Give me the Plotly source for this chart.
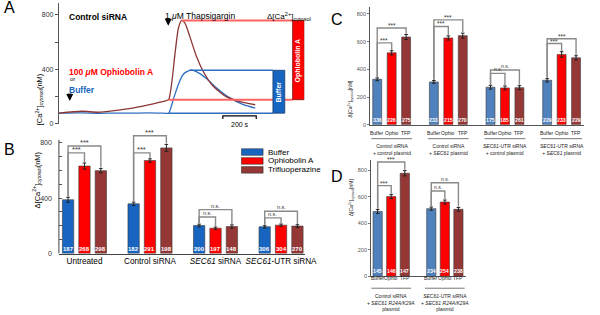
import plotly.graph_objects as go

W, H = 600, 315
FONT = "Liberation Sans, Arial, sans-serif"


def px(x):
    return x / W


def py(y):
    return 1 - y / H


# ---------------- Panel A: cytosolic Ca2+ traces ----------------
a_ophio_t = [0, 137, 235, 333, 431, 529, 627, 657, 676, 696, 716, 735, 755, 784, 823, 863, 922, 1000, 1078, 1176]
a_ophio_v = [78, 92, 85, 97, 114, 138, 165, 177, 303, 521, 703, 759, 739, 642, 497, 388, 279, 201, 165, 140]
a_buffer_t = [0, 137, 235, 333, 431, 529, 627, 657, 686, 716, 745, 784, 823, 882, 941, 1019, 1098, 1176]
a_buffer_v = [78, 80, 77, 79, 78, 80, 78, 78, 182, 291, 364, 393, 383, 334, 267, 194, 145, 116]
a_treat_time = 65
a_thaps_time = 655
a_thaps_rise_t = 657
a_yticks = [0, 400, 800]

# ---------------- Panel B ----------------
b_series = ["Buffer", "Ophiobolin A", "Trifluoperazine"]
b_cats = ["Untreated", "Control siRNA", "<i>SEC61</i> siRNA", "<i>SEC61</i>-UTR siRNA"]
b_buffer = [388, 359, 202, 193]
b_ophio = [631, 671, 183, 205]
b_tfp = [598, 762, 195, 198]
b_buffer_err = [18, 12, 10, 8]
b_ophio_err = [22, 12, 8, 8]
b_tfp_err = [16, 25, 12, 10]
b_buffer_n = [187, 182, 200, 306]
b_ophio_n = [268, 291, 197, 304]
b_tfp_n = [298, 198, 148, 270]
b_sig_inner = ["***", "***", "n.s.", "n.s."]
b_sig_outer = ["***", "***", "n.s.", "n.s."]
b_h_inner = [726, 726, 264, 257]
b_h_outer = [776, 850, 317, 305]
b_yticks = [0, 400, 800]

# ---------------- Panel C ----------------
c_short = ["Buffer", "Ophio", "TFP"]
c_groups = ["Control siRNA<br>+ control plasmid",
            "Control siRNA<br>+ <i>SEC61</i> plasmid",
            "<i>SEC61</i>-UTR siRNA<br>+ control plasmid",
            "<i>SEC61</i>-UTR siRNA<br>+ <i>SEC61</i> plasmid"]
c_buffer = [328, 309, 271, 321]
c_ophio = [519, 626, 266, 507]
c_tfp = [633, 643, 268, 483]
c_buffer_err = [10, 10, 14, 12]
c_ophio_err = [15, 15, 14, 20]
c_tfp_err = [18, 18, 14, 15]
c_buffer_n = [336, 233, 175, 229]
c_ophio_n = [226, 215, 185, 233]
c_tfp_n = [275, 270, 261, 229]
c_sig_inner = ["***", "***", "n.s.", "***"]
c_sig_outer = ["***", "***", "n.s.", "***"]
c_h_inner = [591, 709, 371, 586]
c_h_outer = [698, 757, 395, 621]
c_yticks = [0, 200, 400, 600, 800]

# ---------------- Panel D ----------------
d_groups = ["Control siRNA<br>+ <i>SEC61 R24A/K29A</i><br>plasmid",
            "<i>SEC61</i>-UTR siRNA<br>+ <i>SEC61 R24A/K29A</i><br>plasmid"]
d_buffer = [489, 511]
d_ophio = [602, 561]
d_tfp = [778, 506]
d_buffer_err = [15, 12]
d_ophio_err = [15, 15]
d_tfp_err = [20, 14]
d_buffer_n = [145, 234]
d_ophio_n = [146, 254]
d_tfp_n = [147, 238]
d_sig_inner = ["***", "n.s."]
d_sig_outer = ["***", "n.s."]
d_h_inner = [685, 644]
d_h_outer = [863, 707]
d_yticks = [0, 200, 400, 600, 800]

# ---------------- styles ----------------
COL_B = ["#1765c1", "#ff0000", "#953735"]
COL_CD = ["#4f81bd", "#ff0000", "#953735"]
RED_TRACE = "#8b3535"
BLUE_TRACE = "#2f6fc0"
BRK = "#8a8a8a"

fig = go.Figure()
shapes = []
ann = []

# ============ Panel A ============
fig.add_trace(go.Scatter(x=a_buffer_t, y=a_buffer_v, mode="lines", xaxis="x", yaxis="y",
                         line=dict(color=BLUE_TRACE, width=1.3, shape="spline", smoothing=0.6)))
fig.add_trace(go.Scatter(x=a_ophio_t, y=a_ophio_v, mode="lines", xaxis="x", yaxis="y",
                         line=dict(color=RED_TRACE, width=1.3, shape="spline", smoothing=0.6)))

rise_i = a_ophio_t.index(a_thaps_rise_t)
o_peak = max(a_ophio_v)
o_peak_t = a_ophio_t[a_ophio_v.index(o_peak)]
o_base = a_ophio_v[rise_i]
b_peak = max(a_buffer_v)
b_peak_t = a_buffer_t[a_buffer_v.index(b_peak)]
b_base = a_buffer_v[a_buffer_t.index(a_thaps_rise_t)]

BUF_BOX = (1282, 1353)
OPH_BOX = (1400, 1470)
for (x0, x1, yv) in [(o_peak_t, OPH_BOX[0], o_peak), (a_thaps_rise_t, OPH_BOX[0], o_base)]:
    shapes.append(dict(type="line", xref="x", yref="y", x0=x0, x1=x1, y0=yv, y1=yv,
                       line=dict(color="#ff6464", width=2)))
for (x0, x1, yv) in [(b_peak_t, BUF_BOX[0], b_peak), (a_thaps_rise_t, BUF_BOX[0], b_base)]:
    shapes.append(dict(type="line", xref="x", yref="y", x0=x0, x1=x1, y0=yv, y1=yv,
                       line=dict(color=BLUE_TRACE, width=1.5)))
shapes.append(dict(type="rect", xref="x", yref="y", x0=BUF_BOX[0], x1=BUF_BOX[1], y0=b_base, y1=b_peak,
                   fillcolor="#1765c1", line=dict(color="#1a3f70", width=0.8)))
shapes.append(dict(type="rect", xref="x", yref="y", x0=OPH_BOX[0], x1=OPH_BOX[1], y0=o_base, y1=o_peak,
                   fillcolor="#ff0000", line=dict(color="#7a1010", width=0.8)))
ann.append(dict(xref="x", yref="y", x=sum(BUF_BOX) / 2, y=(b_base + b_peak) / 2, text="<b>Buffer</b>",
                textangle=-90, showarrow=False, font=dict(size=7, color="white", family=FONT)))
ann.append(dict(xref="x", yref="y", x=sum(OPH_BOX) / 2, y=(o_base + o_peak) / 2, text="<b>Ophiobolin A</b>",
                textangle=-90, showarrow=False, font=dict(size=7, color="white", family=FONT)))

# scale bar 200 s
sb0, sb1, sby = 982, 982 + 200, 58
shapes.append(dict(type="path", xref="x", yref="y",
                   path=f"M {sb0},{sby-22} L {sb0},{sby} L {sb1},{sby} L {sb1},{sby-22}",
                   line=dict(color="black", width=1.2)))
ann.append(dict(xref="x", yref="y", x=(sb0 + sb1) / 2, y=sby - 22, yanchor="top", text="200 s",
                showarrow=False, font=dict(size=7, color="black", family=FONT)))

# arrows
for t, ytop in [(a_thaps_time, 17), (a_treat_time, 93)]:
    ann.append(dict(xref="x", yref="paper", x=t, y=py(ytop + 9), ax=0, ay=-8, text="",
                    showarrow=True, arrowhead=2, arrowsize=1, arrowwidth=1.4, arrowcolor="black"))
    shapes.append(dict(type="line", xref="x", yref="paper", x0=t - 12, x1=t + 12,
                       y0=py(ytop + 2), y1=py(ytop + 2), line=dict(color="black", width=1)))

ann += [
    dict(xref="paper", yref="paper", x=px(68), y=py(10), text="<b>Control siRNA</b>", xanchor="left",
         showarrow=False, font=dict(size=8.5, color="black", family=FONT)),
    dict(xref="paper", yref="paper", x=px(166), y=py(9), text="1 <i>μ</i>M Thapsigargin", xanchor="left",
         showarrow=False, font=dict(size=8.5, color="black", family=FONT)),
    dict(xref="paper", yref="paper", x=px(270), y=py(9), text="Δ[Ca<sup>2+</sup>]<sub>cytosol</sub>",
         xanchor="left", showarrow=False, font=dict(size=8, color="black", family=FONT)),
    dict(xref="paper", yref="paper", x=px(68), y=py(66), text="<b>100 <i>μ</i>M Ophiobolin A</b>",
         xanchor="left", showarrow=False, font=dict(size=8.5, color="#ff0000", family=FONT)),
    dict(xref="paper", yref="paper", x=px(69), y=py(75), text="or", xanchor="left",
         showarrow=False, font=dict(size=6, color="black", family=FONT)),
    dict(xref="paper", yref="paper", x=px(68), y=py(83.5), text="<b>Buffer</b>", xanchor="left",
         showarrow=False, font=dict(size=8.5, color="#1765c1", family=FONT)),
    dict(xref="paper", yref="paper", x=px(32), y=py(72), text="[Ca<sup>2+</sup>]<sub>cytosol</sub>(nM)",
         textangle=-90, showarrow=False, font=dict(size=7.5, color="black", family=FONT)),
]


# ============ bar panels helper ============
def bar_panel(xa, ya, values, errs, counts, names, colors, off, bw, sig_in, sig_out, h_in, h_out,
              nfont, sigfont, nsfont):
    ngroups = len(values[0])
    for si, (vals, er, col) in enumerate(zip(values, errs, colors)):
        xs = [g + (si - 1) * off for g in range(ngroups)]
        fig.add_trace(go.Bar(x=xs, y=vals, width=bw, xaxis=xa, yaxis=ya, name=names[si],
                             marker=dict(color=col, line=dict(color="#3a3a3a", width=0.6)),
                             error_y=dict(type="data", array=er, color="#222", thickness=1, width=1.8)))
        for x, n in zip(xs, counts[si]):
            ann.append(dict(xref=xa, yref=ya, x=x, y=0, yanchor="bottom", yshift=0, text=f"<b>{n}</b>",
                            showarrow=False, font=dict(size=nfont, color="white", family=FONT)))
    for g in range(ngroups):
        xb = g - off
        yb = values[0][g] + errs[0][g] + 6
        for k, (sig, h) in enumerate([(sig_in[g], h_in[g]), (sig_out[g], h_out[g])]):
            si = k + 1
            xt = g + (si - 1) * off
            yt = values[si][g] + errs[si][g] + 6
            shapes.append(dict(type="path", xref=xa, yref=ya,
                               path=f"M {xb},{yb} L {xb},{h} L {xt},{h} L {xt},{yt}",
                               line=dict(color=BRK, width=1.4)))
            star = sig.startswith("*")
            ann.append(dict(xref=xa, yref=ya, x=(xb + xt) / 2, y=h, yanchor="bottom",
                            yshift=-3 if star else -1, text=sig, showarrow=False,
                            font=dict(size=sigfont if star else nsfont, color="#333", family=FONT)))


# ============ Panel B ============
bar_panel("x2", "y2", [b_buffer, b_ophio, b_tfp], [b_buffer_err, b_ophio_err, b_tfp_err],
          [b_buffer_n, b_ophio_n, b_tfp_n], b_series, COL_B, 0.25, 0.173,
          b_sig_inner, b_sig_outer, b_h_inner, b_h_outer, 6, 7.5, 5.5)
shapes.append(dict(type="line", xref="x2 domain", yref="y2", x0=0, x1=0, y0=0, y1=820,
                   line=dict(color="#444", width=1)))
ann.append(dict(xref="paper", yref="paper", x=px(30), y=py(212),
                text="Δ[Ca<sup>2+</sup>]<sub>cytosol</sub>(nM)", textangle=-90, showarrow=False,
                font=dict(size=7.5, color="black", family=FONT)))
for i, (nm, col) in enumerate(zip(b_series, COL_B)):
    yc = 153.5 + i * 9
    shapes.append(dict(type="rect", xref="paper", yref="paper", x0=px(246), x1=px(268),
                       y0=py(yc + 3.3), y1=py(yc - 3.3), fillcolor=col, line=dict(color="#333", width=0.6)))
    ann.append(dict(xref="paper", yref="paper", x=px(271), y=py(yc), text=nm, xanchor="left",
                    showarrow=False, font=dict(size=8, color="black", family=FONT)))

# ============ Panel C ============
bar_panel("x3", "y3", [c_buffer, c_ophio, c_tfp], [c_buffer_err, c_ophio_err, c_tfp_err],
          [c_buffer_n, c_ophio_n, c_tfp_n], c_short, COL_CD, 0.255, 0.158,
          c_sig_inner, c_sig_outer, c_h_inner, c_h_outer, 5.2, 6.5, 5)
for g, lab in enumerate(c_groups):
    for si, s in enumerate(c_short):
        ann.append(dict(xref="x3", yref="paper", x=g + (si - 1) * 0.255, y=py(134.5), text=s,
                        showarrow=False, font=dict(size=5, color="#222", family=FONT)))
    shapes.append(dict(type="line", xref="x3", yref="paper", x0=g - 0.36, x1=g + 0.36,
                       y0=py(140), y1=py(140), line=dict(color="#555", width=0.8)))
    ann.append(dict(xref="x3", yref="paper", x=g, y=py(142.5), yanchor="top", text=lab,
                    showarrow=False, font=dict(size=5, color="#222", family=FONT)))
ann.append(dict(xref="paper", yref="paper", x=px(357), y=py(78),
                text="Δ[Ca<sup>2+</sup>]<sub>cytosol</sub>[nM]", textangle=-90, showarrow=False,
                font=dict(size=5, color="#222", family=FONT)))

# ============ Panel D ============
bar_panel("x4", "y4", [d_buffer, d_ophio, d_tfp], [d_buffer_err, d_ophio_err, d_tfp_err],
          [d_buffer_n, d_ophio_n, d_tfp_n], c_short, COL_CD, 0.253, 0.172,
          d_sig_inner, d_sig_outer, d_h_inner, d_h_outer, 5.2, 6.5, 5)
for g, lab in enumerate(d_groups):
    for si, s in enumerate(c_short):
        ann.append(dict(xref="x4", yref="paper", x=g + (si - 1) * 0.253, y=py(285.5), text=s,
                        showarrow=False, font=dict(size=5, color="#222", family=FONT)))
    shapes.append(dict(type="line", xref="x4", yref="paper", x0=g - 0.37, x1=g + 0.37,
                       y0=py(291), y1=py(291), line=dict(color="#555", width=0.8)))
    ann.append(dict(xref="x4", yref="paper", x=g, y=py(293.5), yanchor="top", text=lab,
                    showarrow=False, font=dict(size=5, color="#222", family=FONT)))
ann.append(dict(xref="paper", yref="paper", x=px(358), y=py(220),
                text="Δ[Ca<sup>2+</sup>]<sub>cytosol</sub>[nM]", textangle=-90, showarrow=False,
                font=dict(size=5, color="#222", family=FONT)))

for L, x, y in [("A", 2, 8), ("B", 2, 151), ("C", 335, 20), ("D", 335, 178)]:
    ann.append(dict(xref="paper", yref="paper", x=px(x), y=py(y), text=L, xanchor="left",
                    yanchor="middle", showarrow=False, font=dict(size=16, color="black", family=FONT)))

tickfont_ab = dict(size=7, color="#333", family=FONT)
tickfont_cd = dict(size=5.5, color="#555", family=FONT)

fig.update_layout(
    width=W, height=H, margin=dict(l=0, r=0, t=0, b=0),
    paper_bgcolor="white", plot_bgcolor="white", showlegend=False, barmode="overlay",
    font=dict(family=FONT), hovermode=False,
    xaxis=dict(domain=[px(60), px(310)], range=[0, 1470], visible=False, anchor="y"),
    yaxis=dict(domain=[py(125), py(3)], range=[0, 887], anchor="x", showline=True, linecolor="#555",
               linewidth=1, ticks="outside", ticklen=3, tickcolor="#555", tickvals=a_yticks,
               minor=dict(dtick=200, tick0=0, ticks="outside", ticklen=3, tickcolor="#555"),
               showgrid=False, zeroline=False, tickfont=tickfont_ab),
    xaxis2=dict(domain=[px(60), px(311)], range=[-0.39, 3.37], anchor="y2", showline=True,
                linecolor="#444", linewidth=1, ticks="", tickvals=list(range(len(b_cats))),
                ticktext=b_cats, tickangle=0, showgrid=False, zeroline=False,
                tickfont=dict(size=8.2, color="black", family=FONT)),
    yaxis2=dict(domain=[py(256), py(256 - 870 * 0.14)], range=[0, 870], anchor="x2", showline=False,
                ticks="inside", ticklen=3, tickcolor="#555", tickvals=b_yticks, ticklabelstandoff=6,
                minor=dict(dtick=100, tick0=0, ticks="inside", ticklen=3, tickcolor="#555"),
                showgrid=False, zeroline=False, tickfont=tickfont_ab),
    xaxis3=dict(domain=[px(377), px(595)], range=[-0.381, 3.397], anchor="y3", showline=True,
                linecolor="#555", linewidth=1, showticklabels=False, ticks="", showgrid=False,
                zeroline=False),
    yaxis3=dict(domain=[py(126), py(7)], range=[0, 850], anchor="x3", showline=True, linecolor="#555",
                linewidth=1, ticks="outside", ticklen=2, tickcolor="#777", tickvals=c_yticks,
                showgrid=False, zeroline=False, tickfont=tickfont_cd),
    xaxis4=dict(domain=[px(378), px(475)], range=[-0.376, 1.40], anchor="y4", showline=True,
                linecolor="#555", linewidth=1, showticklabels=False, ticks="", showgrid=False,
                zeroline=False),
    yaxis4=dict(domain=[py(279), py(279 - 880 * 0.13375)], range=[0, 880], anchor="x4", showline=True,
                linecolor="#555", linewidth=1, ticks="outside", ticklen=2, tickcolor="#777",
                tickvals=d_yticks, showgrid=False, zeroline=False, tickfont=tickfont_cd),
    shapes=shapes, annotations=ann,
)

fig.write_html("out.html", config={"displayModeBar": False, "staticPlot": True},
               post_script="document.body.style.margin='0';document.body.style.overflow='hidden';")
